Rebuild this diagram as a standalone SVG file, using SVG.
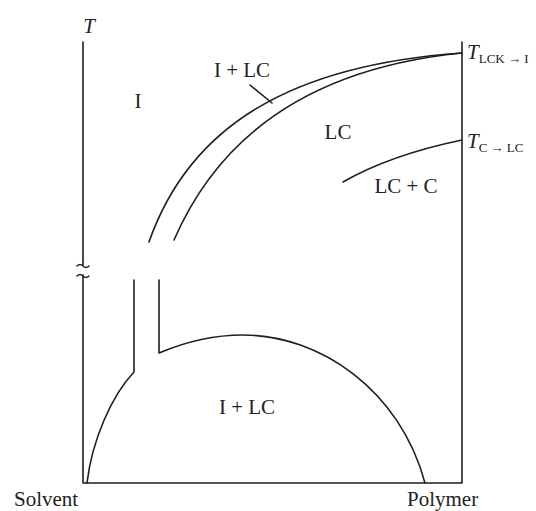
<svg xmlns="http://www.w3.org/2000/svg" width="536" height="511" viewBox="0 0 536 511">
<style>
.ln{fill:none;stroke:#1e1e1e;stroke-width:1.6;stroke-linecap:round;stroke-linejoin:round}
.lb{font-family:"Liberation Serif","Times New Roman",serif;font-size:21px;fill:#222}
.it{font-style:italic}
.sub{font-family:"Liberation Serif","Times New Roman",serif;font-size:13px;fill:#222}
</style>
<rect width="536" height="511" fill="#ffffff"/>
<g id="axes">
<path class="ln" d="M83,42 V265 M83,275 V483 H462 V42"/>
<path class="ln" d="M77,266 q3,-3 6,0 t6,0 M77,276 q3,-3 6,0 t6,0" stroke-width="1.4"/>
</g>
<g id="connectors">
<path id="outer-curve" class="ln" d="M149,242 C190,125 292,65 462,53"/>
<path id="inner-curve" class="ln" d="M174,240 C219.5,135 312,68 462,53"/>
<path id="lcc-curve" class="ln" d="M343,182 Q390,155 462,140"/>
<path id="leader" class="ln" d="M250,85 L272,103"/>
<path id="dome-left" class="ln" d="M134,280 V372 C112,395 92,440 87,483"/>
<path id="dome-right" class="ln" d="M159,280 V353 C185,342 215,335 243,335 C320,335 400,390 425,483"/>
</g>
<g id="labels">
<text class="lb it" x="89" y="33" text-anchor="middle" font-size="24">T</text>
<text class="lb" x="138" y="108" text-anchor="middle">I</text>
<text class="lb" x="242" y="77" text-anchor="middle">I + LC</text>
<text class="lb" x="338" y="139" text-anchor="middle">LC</text>
<text class="lb" x="406" y="193" text-anchor="middle">LC + C</text>
<text class="lb" x="247" y="414" text-anchor="middle">I + LC</text>
<text class="lb" x="14" y="506" font-size="23">Solvent</text>
<text class="lb" x="407" y="506" font-size="23">Polymer</text>
<text class="lb it" x="467" y="59" font-size="20">T<tspan class="sub" font-style="normal" dy="4">LCK → I</tspan></text>
<text class="lb it" x="467" y="148" font-size="20">T<tspan class="sub" font-style="normal" dy="4">C → LC</tspan></text>
</g>
</svg>
